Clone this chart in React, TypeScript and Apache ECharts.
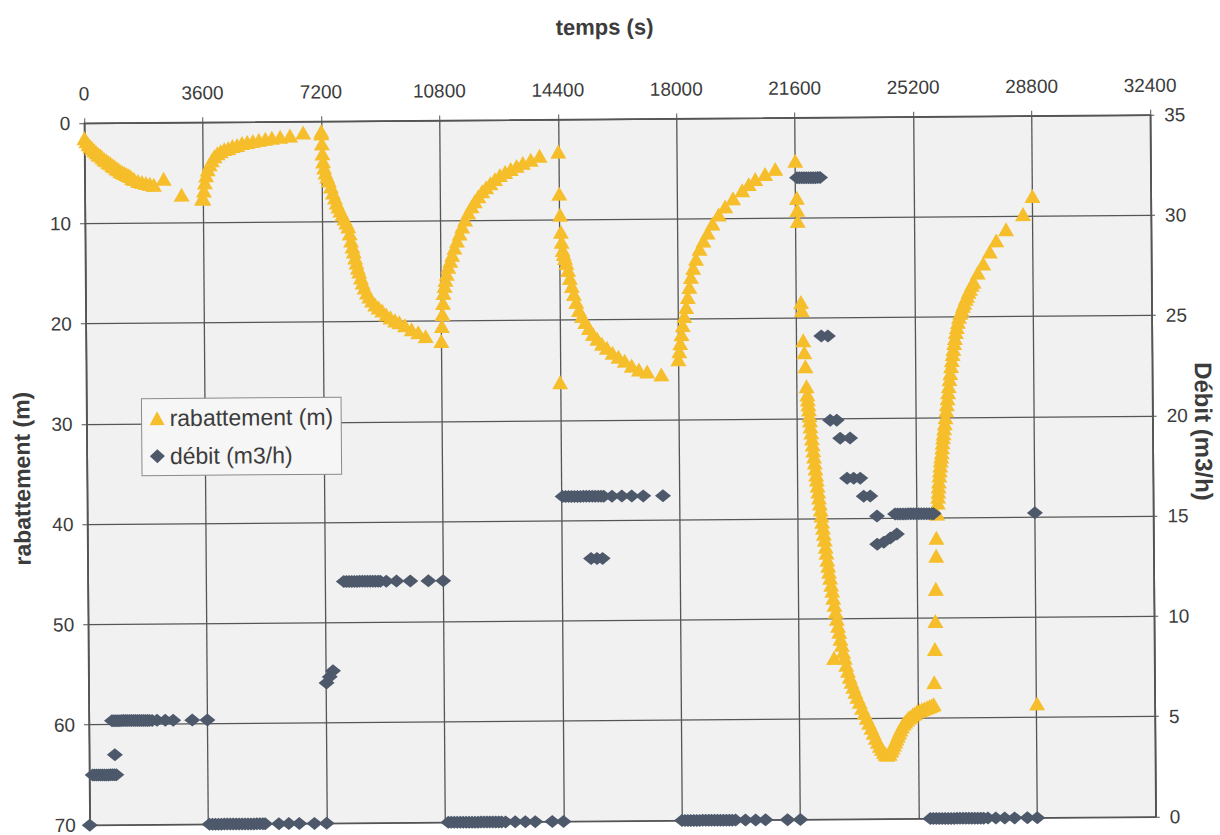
import React, { useEffect, useRef } from "react";
import * as echarts from "echarts";

// ---- axis ticks ----
const timeTicks = [0, 3600, 7200, 10800, 14400, 18000, 21600, 25200, 28800, 32400];

// ---- rabattement (m) : [temps (s), rabattement (m)] ----
const rabA = [[0,1.5],[60,1.8],[120,2.1],[180,2.3],[240,2.5],[300,2.7],[360,2.9],[420,3.1],[480,3.2],[540,3.4],[600,3.6],[660,3.7],[720,3.9],[780,4.0],[840,4.2],[900,4.3],[960,4.5],[1020,4.6],[1080,4.8],[1140,4.9],[1200,5.0],[1260,5.1],[1320,5.2],[1380,5.3],[1440,5.5],[1500,5.6],[1620,5.8],[1740,5.9],[1860,6.0],[1980,6.1],[2100,6.2],[2400,5.6],[2940,7.2],[3560,7.6]];
const rabB = [[3600,7.6],[3620,6.8],[3650,6.0],[3690,5.3],[3740,4.7],[3800,4.2],[3870,3.8],[3950,3.4],[4040,3.1],[4140,2.9],[4250,2.7],[4370,2.6],[4500,2.4],[4640,2.3],[4790,2.1],[4950,2.0],[5120,1.9],[5300,1.8],[5500,1.7],[5700,1.6],[5950,1.5],[6250,1.4],[6650,1.1],[7200,1.0]];
const rabC = [[7200,1.2],[7215,2.2],[7230,3.2],[7250,4.0],[7280,4.6],[7320,5.1],[7370,5.5],[7420,5.9],[7480,6.5],[7540,7.1],[7600,7.6],[7650,8.1],[7700,8.5],[7760,8.9],[7820,9.3],[7880,9.7],[7940,10.1],[8000,10.5],[8040,11.2],[8080,11.9],[8120,12.5],[8160,13.0],[8200,13.6],[8240,14.1],[8280,14.6],[8320,15.0],[8370,15.6],[8420,16.1],[8480,16.6],[8550,17.1],[8620,17.5],[8700,17.9],[8800,18.3],[8900,18.6],[9010,18.9],[9130,19.3],[9260,19.6],[9400,19.9],[9530,20.1],[9700,20.4],[9900,20.8],[10100,21.1],[10325,21.5],[10800,22.0]];
const rabD = [[10820,20.5],[10840,19.3],[10860,18.2],[10880,17.2],[10910,16.5],[10940,15.9],[10980,15.3],[11030,14.6],[11090,14.0],[11150,13.4],[11220,12.7],[11300,12.0],[11380,11.3],[11460,10.6],[11550,9.9],[11650,9.2],[11750,8.6],[11850,8.1],[11960,7.6],[12080,7.1],[12200,6.7],[12330,6.3],[12470,5.9],[12620,5.5],[12780,5.2],[12950,4.9],[13130,4.6],[13320,4.3],[13560,4.0],[13830,3.6],[14400,3.2]];
const rabE = [[14400,26.2],[14420,7.4],[14440,9.5],[14460,11.2],[14480,12.2],[14510,13.0],[14540,13.4],[14580,13.8],[14620,14.3],[14670,15.0],[14720,15.8],[14780,16.6],[14840,17.4],[14910,18.2],[14990,19.0],[15080,19.6],[15180,20.2],[15290,20.8],[15410,21.4],[15540,21.9],[15680,22.4],[15830,22.8],[16000,23.3],[16180,23.7],[16370,24.1],[16580,24.6],[16800,25.0],[17050,25.2],[17480,25.5]];
const rabF = [[18000,24.0],[18030,23.2],[18060,22.4],[18100,21.5],[18140,20.6],[18190,19.7],[18250,18.8],[18300,17.8],[18350,16.8],[18400,15.8],[18470,14.9],[18560,14.0],[18670,13.0],[18790,12.2],[18920,11.4],[19070,10.5],[19260,9.6],[19460,8.8],[19700,8.0],[19980,7.2],[20180,6.6],[20380,6.1],[20680,5.6],[20990,5.1],[21600,4.3]];
const rabG = [[21640,8.0],[21650,9.2],[21660,10.3],[21740,18.4],[21760,19.2],[21800,22.2],[21830,23.4],[21860,24.8],[21890,26.8],[21910,27.6],[21925,28.1],[21940,28.6],[21955,29.1],[21970,29.7],[21985,30.2],[22000,30.8],[22020,31.4],[22040,32.0],[22060,32.6],[22080,33.2],[22100,33.8],[22120,34.4],[22140,35.0],[22160,35.6],[22180,36.1],[22200,36.7],[22220,37.3],[22240,37.9],[22265,38.5],[22290,39.1],[22310,39.7],[22330,40.3],[22355,40.9],[22380,41.5],[22405,42.1],[22430,42.8],[22455,43.4],[22480,44.1],[22505,44.7],[22530,45.3],[22560,45.9],[22590,46.6],[22620,47.2],[22650,47.9],[22660,53.9],[22685,48.6],[22720,49.3],[22755,50.0],[22790,50.7],[22825,51.3],[22860,52.0],[22900,52.6],[22940,53.3],[22985,53.9],[23030,54.6],[23080,55.2],[23130,55.8],[23185,56.3],[23240,56.8],[23300,57.3],[23360,57.8],[23430,58.3],[23500,58.9],[23570,59.4],[23640,59.9],[23710,60.4],[23780,60.9],[23845,61.4],[23910,61.9],[23970,62.3],[24030,62.7],[24090,63.0],[24150,63.3],[24200,63.5],[24250,63.6],[24330,63.5],[24380,63.2],[24420,62.9],[24460,62.6],[24500,62.3],[24540,62.0],[24580,61.7],[24620,61.4],[24660,61.1],[24710,60.8],[24760,60.5],[24810,60.3],[24870,60.1],[24920,59.9],[24980,59.8],[25040,59.6],[25100,59.5],[25170,59.3],[25250,59.2],[25320,59.1],[25400,59.0],[25480,58.9],[25550,58.8],[25620,58.7],[25680,58.6]];
const rabH = [[25700,56.4],[25730,53.1],[25750,50.3],[25770,47.1],[25790,43.8],[25800,42.0],[25830,39.6],[25850,38.5],[25860,37.9],[25870,37.4],[25880,36.9],[25890,36.4],[25905,35.8],[25920,35.3],[25935,34.8],[25950,34.3],[25965,33.9],[25980,33.5],[25995,33.0],[26010,32.5],[26025,32.0],[26040,31.6],[26060,31.1],[26080,30.6],[26105,30.0],[26130,29.3],[26150,28.7],[26170,28.1],[26190,27.5],[26210,26.9],[26235,26.2],[26260,25.6],[26285,24.9],[26310,24.3],[26335,23.7],[26360,23.2],[26385,22.6],[26410,22.1],[26440,21.5],[26470,21.0],[26505,20.5],[26540,20.0],[26580,19.6],[26620,19.3],[26660,18.9],[26700,18.6],[26745,18.2],[26790,17.9],[26835,17.5],[26880,17.2],[26935,16.8],[26990,16.5],[27120,15.6],[27290,14.7],[27490,13.5],[27690,12.4],[27990,11.3],[28510,9.8],[28800,8.0],[28820,58.6]];

// ---- débit (m3/h) : [temps (s), débit (m3/h)] ----
const debA = [[0,0],[100,2.5],[160,2.5],[220,2.5],[280,2.5],[340,2.5],[400,2.5],[460,2.5],[520,2.5],[580,2.5],[640,2.5],[700,2.5],[760,2.5],[820,2.5],[780,3.5]];
const debB = [[700,5.2],[760,5.2],[820,5.2],[880,5.2],[940,5.2],[1000,5.2],[1060,5.2],[1120,5.2],[1180,5.2],[1240,5.2],[1300,5.2],[1360,5.2],[1420,5.2],[1480,5.2],[1540,5.2],[1600,5.2],[1660,5.2],[1720,5.2],[1780,5.2],[1840,5.2],[1920,5.2],[2070,5.2],[2320,5.2],[2560,5.2],[3140,5.2],[3600,5.2]];
const debC = [[3640,0],[3730,0],[3820,0],[3910,0],[4000,0],[4090,0],[4180,0],[4270,0],[4360,0],[4450,0],[4540,0],[4630,0],[4720,0],[4810,0],[4900,0],[4990,0],[5080,0],[5170,0],[5260,0],[5330,0],[5750,0],[6050,0],[6370,0],[6830,0],[7200,0]];
const debD = [[7230,7.0],[7330,7.3],[7430,7.6]];
const debE = [[7780,12.05],[7860,12.05],[7940,12.05],[8020,12.05],[8100,12.05],[8180,12.05],[8260,12.05],[8340,12.05],[8420,12.05],[8500,12.05],[8580,12.05],[8660,12.05],[8740,12.05],[8820,12.05],[8890,12.05],[9070,12.05],[9380,12.05],[9800,12.05],[10350,12.05],[10800,12.05]];
const debF = [[10900,0],[10990,0],[11080,0],[11170,0],[11260,0],[11350,0],[11440,0],[11530,0],[11620,0],[11710,0],[11800,0],[11890,0],[11980,0],[12070,0],[12160,0],[12250,0],[12340,0],[12430,0],[12520,0],[12640,0],[12930,0],[13240,0],[13540,0],[14060,0],[14400,0]];
const debG = [[14450,16.2],[14540,16.2],[14630,16.2],[14720,16.2],[14810,16.2],[14900,16.2],[14990,16.2],[15080,16.2],[15170,16.2],[15260,16.2],[15350,16.2],[15440,16.2],[15530,16.2],[15620,16.2],[15700,16.2],[15950,16.2],[16250,16.2],[16550,16.2],[16900,16.2],[17500,16.2]];
const debH = [[15300,13.1],[15480,13.1],[15650,13.1]];
const debI = [[18000,0],[18090,0],[18180,0],[18270,0],[18360,0],[18450,0],[18540,0],[18630,0],[18720,0],[18810,0],[18900,0],[18990,0],[19080,0],[19170,0],[19260,0],[19350,0],[19440,0],[19530,0],[19630,0],[19930,0],[20240,0],[20540,0],[21210,0],[21600,0]];
const debJ = [[21650,32.0],[21720,32.0],[21790,32.0],[21860,32.0],[21930,32.0],[22000,32.0],[22070,32.0],[22140,32.0],[22210,32.0],[22280,32.0],[22350,32.0]];
const debK = [[22350,24.1],[22550,24.1],[22600,19.9],[22800,19.9],[22900,19.0],[23200,19.0],[23100,17.0],[23300,17.0],[23500,17.0],[23600,16.1],[23800,16.1],[24000,13.7],[24200,13.8],[24400,14.0],[24600,14.2]];
const debL = [[24000,15.1],[24550,15.2],[24630,15.2],[24710,15.2],[24790,15.2],[24870,15.2],[24950,15.2],[25030,15.2],[25110,15.2],[25190,15.2],[25270,15.2],[25350,15.2],[25430,15.2],[25510,15.2],[25590,15.2],[25670,15.2],[25720,15.2],[28800,15.2]];
const debM = [[25550,0],[25640,0],[25730,0],[25820,0],[25910,0],[26000,0],[26090,0],[26180,0],[26270,0],[26360,0],[26450,0],[26540,0],[26630,0],[26720,0],[26810,0],[26900,0],[26990,0],[27080,0],[27170,0],[27300,0],[27540,0],[27810,0],[28110,0],[28500,0],[28800,0]];

const rabattement = [...rabA, ...rabB, ...rabC, ...rabD, ...rabE, ...rabF, ...rabG, ...rabH];
const debit = [...debA, ...debB, ...debC, ...debD, ...debE, ...debF, ...debG, ...debH, ...debI, ...debJ, ...debK, ...debL, ...debM];

const FONT = 'Arial, "Liberation Sans", sans-serif';
const GRID_COLOR = "#555555";
const TXT = "#3c3c3c";
const plain = (v: number) => String(v);

export default function App() {
  const ref = useRef<HTMLDivElement>(null);
  useEffect(() => {
    document.body.style.margin = "0";
    const chart = echarts.init(ref.current as HTMLDivElement, null, { renderer: "svg" });
    chart.setOption({
      animation: false,
      backgroundColor: "#ffffff",
      grid: {
        left: 87, right: 67, top: 119, bottom: 14,
        show: true, backgroundColor: "#f1f1f1", borderColor: GRID_COLOR, borderWidth: 1.3,
      },
      legend: {
        orient: "vertical",
        left: 142, top: 395,
        backgroundColor: "#f6f6f6",
        borderColor: "#8a8a8a", borderWidth: 1,
        padding: [8, 8, 8, 8],
        itemGap: 15,
        itemWidth: 15, itemHeight: 14,
        textStyle: { fontSize: 23, color: TXT, fontFamily: FONT },
        data: [
          { name: "rabattement (m)", icon: "triangle" },
          { name: "débit (m3/h)", icon: "diamond" },
        ],
      },
      xAxis: {
        type: "value", position: "top",
        min: timeTicks[0], max: timeTicks[timeTicks.length - 1], interval: 3600,
        axisLine: { show: true, lineStyle: { color: GRID_COLOR, width: 1.3 } },
        axisTick: { show: true, length: 5, lineStyle: { color: GRID_COLOR } },
        axisLabel: { fontSize: 19, color: TXT, fontFamily: FONT, margin: 20, formatter: plain },
        splitLine: { show: true, lineStyle: { color: GRID_COLOR, width: 1.3 } },
      },
      yAxis: [
        {
          type: "value", inverse: true, min: 0, max: 70, interval: 10,
          axisLine: { show: true, lineStyle: { color: GRID_COLOR, width: 1.3 } },
          axisTick: { show: true, length: 5, lineStyle: { color: GRID_COLOR } },
          axisLabel: { fontSize: 19, color: TXT, fontFamily: FONT, margin: 14, formatter: plain },
          splitLine: { show: true, lineStyle: { color: GRID_COLOR, width: 1.3 } },
        },
        {
          type: "value", position: "right", min: 0, max: 35, interval: 5,
          axisLine: { show: true, lineStyle: { color: GRID_COLOR, width: 1.3 } },
          axisTick: { show: true, length: 4, lineStyle: { color: GRID_COLOR } },
          axisLabel: { fontSize: 19, color: TXT, fontFamily: FONT, margin: 14, formatter: plain },
          splitLine: { show: false },
        },
      ],
      graphic: [
        {
          type: "text", x: 608, y: 27,
          style: { text: "temps (s)", fontSize: 22, fontWeight: "bold", fontFamily: FONT, fill: TXT, align: "center", verticalAlign: "middle", textAlign: "center", textVerticalAlign: "middle" },
        },
        {
          type: "text", x: 22, y: 474, rotation: Math.PI / 2,
          style: { text: "rabattement (m)", fontSize: 23, fontWeight: "bold", fontFamily: FONT, fill: TXT, align: "center", verticalAlign: "middle", textAlign: "center", textVerticalAlign: "middle" },
        },
        {
          type: "text", x: 1204, y: 436, rotation: -Math.PI / 2,
          style: { text: "Débit (m3/h)", fontSize: 24, fontWeight: "bold", fontFamily: FONT, fill: TXT, align: "center", verticalAlign: "middle", textAlign: "center", textVerticalAlign: "middle" },
        },
      ],
      series: [
        {
          name: "rabattement (m)", type: "scatter", yAxisIndex: 0,
          symbol: "triangle", symbolSize: [16, 14], clip: false,
          itemStyle: { color: "#f5be2a", opacity: 1 },
          data: rabattement,
        },
        {
          name: "débit (m3/h)", type: "scatter", yAxisIndex: 1,
          symbol: "diamond", symbolSize: [16, 13], clip: false,
          itemStyle: { color: "#4d596b", opacity: 1 },
          data: debit,
        },
      ],
    });
    return () => chart.dispose();
  }, []);
  return (
    <div
      ref={ref}
      style={{
        position: "absolute", left: 0, top: 0, width: 1220, height: 835,
        transform: "rotate(-0.45deg)", transformOrigin: "620px 470px",
      }}
    />
  );
}
